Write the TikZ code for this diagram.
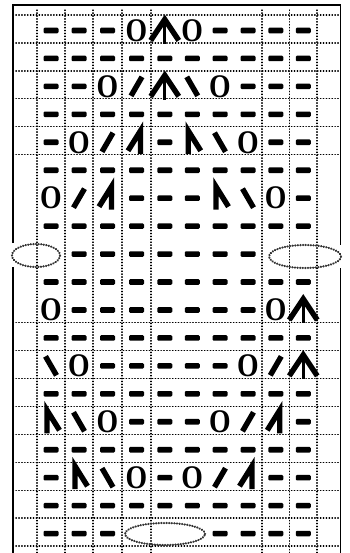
\documentclass[tikz,border=0pt]{standalone}
\usepackage{fontspec}
\newfontfamily\oserif{Liberation Serif}
\tikzset{
  pics/kdash/.style={code={\fill[rounded corners=1.2pt] (-7.5,-2.8) rectangle (7.5,2.8);}},
  pics/kktwo/.style={code={\draw[kstroke] (-5.5,9.5) -- (5.5,-9.5);}},
  pics/kssk/.style={code={\draw[kstroke] (-5.5,-9.5) -- (5.5,9.5);}},
  pics/kcdd/.style={code={\draw[kstroke] (-14,10) -- (0,-11) -- (14,10); \draw[line width=3.2pt] (0,-11) -- (0,13.5);}},
  pics/kdecl/.style={code={\draw[kstroke] (-8.5,8.5) -- (4,-11.5) -- (4,11.5);}},
  pics/kdecr/.style={code={\draw[kstroke] (8.5,8.5) -- (-4,-11.5) -- (-4,11.5);}},
}
\begin{document}
\begin{tikzpicture}[x=1pt,y=-1pt,
  gridline/.style={line width=1.3pt, line cap=round, dash pattern=on 0.5pt off 2.4pt, black},
  frameline/.style={line width=1.8pt, black},
  bead/.style={line width=2.3pt, line cap=round, dash pattern=on 0.2pt off 2.4pt, black!80},
  yo/.style={font=\oserif\bfseries\fontsize{33}{33}\selectfont, inner sep=0pt, xscale=0.84},
  kstroke/.style={line width=5.4pt, line join=miter, black},
]
\useasboundingbox (0,0) rectangle (349,553);
% cell centres
\foreach \c/\x in {1/51,2/79,3/107.5,4/136.5,5/164.75,6/192.25,7/220,8/248,9/275.75,10/303.25}
  \foreach \r in {1,...,19}
    \coordinate (c\c-\r) at (\x,{15+27.95*(\r-0.5)+1.5});
% grid
\foreach \x in {37,65,93,122,151,262,289.5,317}
  \draw[gridline] (\x,10) -- (\x,553);
\foreach \k in {0,1,2,3,4,5,11,12,13,14,15,16,17,18,19}
  \draw[gridline] (13,{15+27.95*\k}) -- (340.5,{15+27.95*\k});
% frame
\draw[frameline] (13,553) -- (13,267);
\draw[frameline] (13,243) -- (13,5) -- (340.5,5) -- (340.5,245);
\draw[frameline] (340.5,268) -- (340.5,553);
% purl dashes
\foreach \r in {2,4,...,18}
  \foreach \c in {1,...,10}
    \pic at (c\c-\r) {kdash};
\foreach \r/\cs in {1/{1,2,3,7,8,9,10},3/{1,2,8,9,10},5/{1,5,9,10},7/{4,5,6,10},
                    9/{2,3,4,5,6,7,8},11/{2,3,4,5,6,7,8},13/{3,4,5,6,7},
                    15/{4,5,6,10},17/{1,5,9,10},19/{1,2,3,7,8,9,10}}
  \foreach \c in \cs
    \pic at (c\c-\r) {kdash};
% yarn overs
\foreach \c/\r in {4/1,6/1,3/3,7/3,2/5,8/5,1/7,9/7,1/11,9/11,2/13,8/13,3/15,7/15,4/17,6/17}
  \node[yo] (yo-\c-\r) at (c\c-\r) {O};
% decreases
\foreach \c/\r in {4/3,3/5,2/7,9/13,8/15,7/17}
  \pic at (c\c-\r) {kktwo};
\foreach \c/\r in {6/3,7/5,8/7,1/13,2/15,3/17}
  \pic at (c\c-\r) {kssk};
\foreach \c/\r in {5/1,5/3,10/11,10/13}
  \pic at (c\c-\r) {kcdd};
\foreach \c/\r in {4/5,3/7,9/15,8/17}
  \pic at (c\c-\r) {kdecl};
\foreach \c/\r in {6/5,7/7,1/15,2/17}
  \pic at (c\c-\r) {kdecr};
% dotted ellipses
\draw[bead] (36,255.5) ellipse [x radius=24pt, y radius=11.5pt];
\draw[bead] (305,256.5) ellipse [x radius=36pt, y radius=11.5pt];
\draw[bead] (165,534) ellipse [x radius=40pt, y radius=11pt];
\end{tikzpicture}
\end{document}
